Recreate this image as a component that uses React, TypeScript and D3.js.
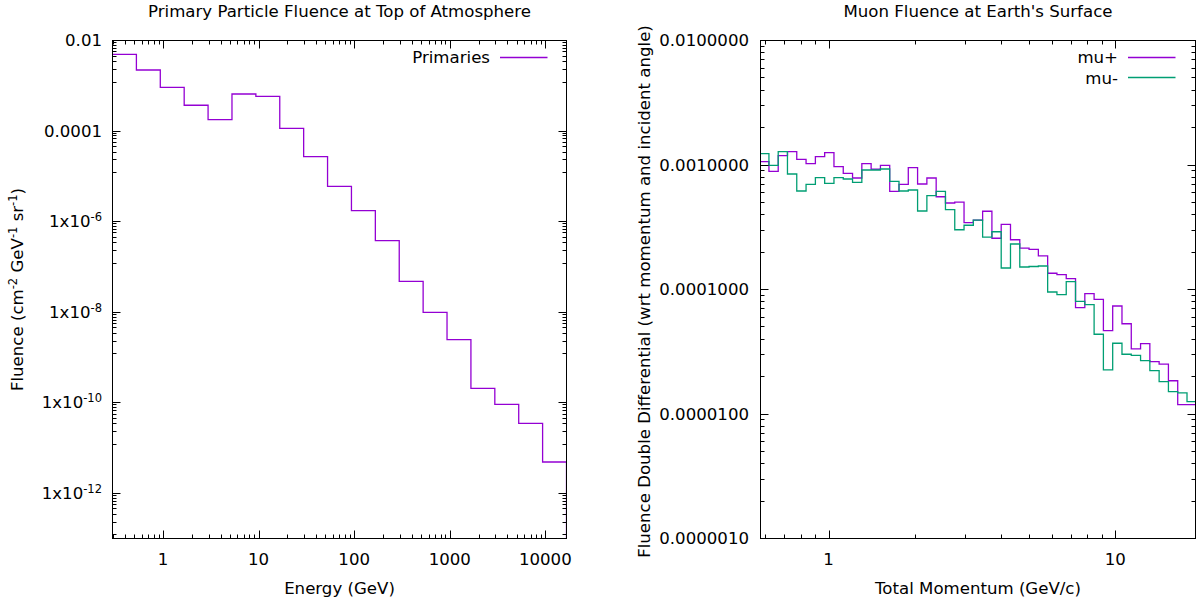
import React from "react";
import * as d3 from "d3";

// ---------- Data: left chart (primary particle fluence) ----------
const primaryEdges = [0.296, 0.5264, 0.936, 1.6645, 2.96, 5.264, 9.36, 16.645, 29.6, 52.64, 93.6, 166.45, 296, 526.4, 936, 1664.5, 2960, 5264, 9360, 16645];
const primaryFluence = [4.95e-3, 2.23e-3, 9.25e-4, 3.71e-4, 1.78e-4, 6.58e-4, 5.85e-4, 1.15e-4, 2.71e-5, 6.01e-6, 1.74e-6, 3.78e-7, 4.8e-8, 9.9e-9, 2.46e-9, 2.07e-10, 9.2e-11, 3.5e-11, 4.9e-12];

// ---------- Data: right chart (muon fluence) ----------
const muonEdges = [0.579, 0.6196, 0.6675, 0.719, 0.7747, 0.8348, 0.8997, 0.9694, 1.0445, 1.1254, 1.2126, 1.3066, 1.4078, 1.5169, 1.6344, 1.761, 1.8974, 2.0444, 2.2028, 2.3735, 2.5573, 2.7555, 2.9689, 3.1989, 3.4467, 3.7137, 4.0014, 4.3113, 4.6453, 5.0052, 5.3929, 5.8107, 6.2608, 6.7458, 7.2684, 7.8315, 8.4382, 9.0918, 9.7962, 10.555, 11.373, 12.254, 13.203, 14.225, 15.327, 16.515, 17.794, 19.05];
const muPlus = [1.063e-3, 8.9e-4, 1.188e-3, 1.279e-3, 1.111e-3, 1.024e-3, 1.166e-3, 1.256e-3, 9.69e-4, 8.58e-4, 7.86e-4, 1.024e-3, 9.24e-4, 9.94e-4, 6.15e-4, 7.0e-4, 9.51e-4, 7.04e-4, 7.86e-4, 5.56e-4, 4.95e-4, 5.04e-4, 3.44e-4, 3.61e-4, 4.25e-4, 2.58e-4, 3.34e-4, 2.51e-4, 2.15e-4, 2.1e-4, 1.86e-4, 1.35e-4, 1.315e-4, 1.221e-4, 7.14e-5, 9.25e-5, 8.34e-5, 4.67e-5, 7.37e-5, 5.31e-5, 3.34e-5, 3.67e-5, 2.63e-5, 2.52e-5, 1.85e-5, 1.188e-5, 1.188e-5];
const muMinus = [1.233e-3, 9.94e-4, 1.279e-3, 8.47e-4, 6.18e-4, 7.0e-4, 7.91e-4, 7.13e-4, 7.91e-4, 7.72e-4, 7.26e-4, 9.12e-4, 9.12e-4, 9.29e-4, 7.4e-4, 6.18e-4, 6.3e-4, 4.27e-4, 5.67e-4, 6.15e-4, 4.38e-4, 3.02e-4, 3.28e-4, 3.61e-4, 2.63e-4, 2.91e-4, 1.489e-4, 2.32e-4, 1.516e-4, 1.53e-4, 1.545e-4, 9.55e-5, 9.08e-5, 1.155e-4, 8.04e-5, 7.55e-5, 4.37e-5, 2.26e-5, 3.7e-5, 3.02e-5, 2.96e-5, 2.68e-5, 2.23e-5, 1.82e-5, 1.51e-5, 1.48e-5, 1.256e-5];

// ---------- Tick labels ----------
const leftXTicks = [1, 10, 100, 1000, 10000];
const leftXLabels = ["1", "10", "100", "1000", "10000"];
const leftYTicks = [1e-2, 1e-4, 1e-6, 1e-8, 1e-10, 1e-12];
const leftYLabels: [string, string][] = [["0.01", ""], ["0.0001", ""], ["1x10", "-6"], ["1x10", "-8"], ["1x10", "-10"], ["1x10", "-12"]];
const rightXTicks = [1, 10];
const rightXLabels = ["1", "10"];
const rightYTicks = [1e-2, 1e-3, 1e-4, 1e-5, 1e-6];
const rightYLabels = ["0.0100000", "0.0010000", "0.0001000", "0.0000100", "0.0000010"];

const PURPLE = "#9400d3";
const GREEN = "#009e73";
const FONT = "'DejaVu Sans', sans-serif";
const FS = 16.6;
const SUP = 11.5;

const TOP = 40.5;
const BOTTOM = 538.5;

function minorLog(lo: number, hi: number) {
  const out: number[] = [];
  for (let e = Math.floor(Math.log10(lo)) - 1; e <= Math.ceil(Math.log10(hi)); e++) {
    for (let k = 2; k <= 9; k++) {
      const v = k * Math.pow(10, e);
      if (v >= lo && v <= hi) out.push(v);
    }
  }
  return out;
}

function stepLine(edges: number[], vals: number[], x: any, y: any) {
  const pts: [number, number][] = vals.map((v, i) => [edges[i], v]);
  pts.push([edges[edges.length - 1], vals[vals.length - 1]]);
  return d3
    .line<[number, number]>()
    .x((p) => x(p[0]))
    .y((p) => y(p[1]))
    .curve(d3.curveStepAfter)(pts) as string;
}

function Frame({ x0, x1, xMajor, xMinor, yMajor, yMinor, x, y }: any) {
  const els: any[] = [];
  const M = 8, m = 4;
  xMajor.forEach((v: number, i: number) => {
    const px = Math.round(x(v)) + 0.5;
    els.push(<line key={"xb" + i} x1={px} x2={px} y1={BOTTOM} y2={BOTTOM - M} />);
    els.push(<line key={"xt" + i} x1={px} x2={px} y1={TOP} y2={TOP + M} />);
  });
  xMinor.forEach((v: number, i: number) => {
    const px = Math.round(x(v)) + 0.5;
    els.push(<line key={"xmb" + i} x1={px} x2={px} y1={BOTTOM} y2={BOTTOM - m} />);
    els.push(<line key={"xmt" + i} x1={px} x2={px} y1={TOP} y2={TOP + m} />);
  });
  yMajor.forEach((v: number, i: number) => {
    const py = Math.round(y(v) - 0.5) + 0.5;
    els.push(<line key={"yl" + i} x1={x0} x2={x0 + M} y1={py} y2={py} />);
    els.push(<line key={"yr" + i} x1={x1} x2={x1 - M} y1={py} y2={py} />);
  });
  yMinor.forEach((v: number, i: number) => {
    const py = Math.round(y(v) - 0.5) + 0.5;
    els.push(<line key={"yml" + i} x1={x0} x2={x0 + m} y1={py} y2={py} />);
    els.push(<line key={"ymr" + i} x1={x1} x2={x1 - m} y1={py} y2={py} />);
  });
  return (
    <g stroke="#000" strokeWidth={1} fill="none">
      {els}
      <rect x={x0} y={TOP} width={x1 - x0} height={BOTTOM - TOP} />
    </g>
  );
}

export default function App() {
  // Left chart
  const L0 = 112.5, L1 = 566.5;
  const lx = d3.scaleLog().domain([primaryEdges[0], primaryEdges[primaryEdges.length - 1]]).range([L0, L1]);
  const ly = d3.scaleLog().domain([1e-13, 1e-2]).range([BOTTOM, TOP]);
  const lxMinor = minorLog(primaryEdges[0], primaryEdges[primaryEdges.length - 1]);
  const lyMinor: number[] = [];
  for (let a = -14; a <= -4; a += 2) {
    const lo = Math.pow(10, a), hi = Math.pow(10, a + 2);
    for (let k = 1; k <= 8; k++) {
      const v = lo + (k * (hi - lo)) / 9;
      if (v >= 1e-13 && v <= 1e-2) lyMinor.push(v);
    }
  }
  const primPath = stepLine(primaryEdges, primaryFluence, lx, ly) + `V${BOTTOM}`;

  // Right chart
  const R0 = 760.5, R1 = 1195.5;
  const rx = d3.scaleLog().domain([muonEdges[0], muonEdges[muonEdges.length - 1]]).range([R0, R1]);
  const ry = d3.scaleLog().domain([1e-6, 1e-2]).range([BOTTOM, TOP]);
  const rxMinor = minorLog(muonEdges[0], muonEdges[muonEdges.length - 1]);
  const ryMinor = minorLog(1e-6, 1e-2);
  const plusPath = stepLine(muonEdges, muPlus, rx, ry);
  const minusPath = stepLine(muonEdges, muMinus, rx, ry);

  return (
    <div style={{ position: "fixed", left: 0, top: 0 }}>
      <svg width={1198} height={605} style={{ display: "block", background: "#fff" }} fontFamily={FONT} fontSize={FS}>
        <defs>
          <clipPath id="clipL"><rect x={L0} y={TOP} width={L1 - L0} height={BOTTOM - TOP} /></clipPath>
          <clipPath id="clipR"><rect x={R0} y={TOP} width={R1 - R0} height={BOTTOM - TOP} /></clipPath>
        </defs>
        <rect x={0} y={0} width={1198} height={605} fill="#fff" />

        {/* ---------- Left chart ---------- */}
        <text x={(L0 + L1) / 2} y={17} textAnchor="middle" fill="#000">Primary Particle Fluence at Top of Atmosphere</text>
        <g clipPath="url(#clipL)">
          <path d={primPath} fill="none" stroke={PURPLE} strokeWidth={1.3} />
        </g>
        <Frame x0={L0} x1={L1} xMajor={leftXTicks} xMinor={lxMinor} yMajor={leftYTicks} yMinor={lyMinor} x={lx} y={ly} />
        {leftXTicks.map((v, i) => (
          <text key={"lxl" + i} x={lx(v)} y={564.5} textAnchor="middle" fill="#000">{leftXLabels[i]}</text>
        ))}
        {leftYTicks.map((v, i) => (
          <text key={"lyl" + i} x={102} y={ly(v) + 5.5} textAnchor="end" fill="#000">
            {leftYLabels[i][0]}
            {leftYLabels[i][1] ? <tspan fontSize={SUP} dy={-6}>{leftYLabels[i][1]}</tspan> : null}
          </text>
        ))}
        <text x={(L0 + L1) / 2} y={594} textAnchor="middle" fill="#000">Energy (GeV)</text>
        <text transform={`translate(22.5, ${(TOP + BOTTOM) / 2}) rotate(-90)`} textAnchor="middle" fill="#000">
          Fluence (cm<tspan fontSize={SUP} dy={-6}>-2</tspan>
          <tspan dy={6}> GeV</tspan><tspan fontSize={SUP} dy={-6}>-1</tspan>
          <tspan dy={6}> sr</tspan><tspan fontSize={SUP} dy={-6}>-1</tspan>
          <tspan dy={6}>)</tspan>
        </text>
        <text x={490} y={63.3} textAnchor="end" fill="#000">Primaries</text>
        <line x1={500} x2={547.5} y1={57.5} y2={57.5} stroke={PURPLE} strokeWidth={1.3} />

        {/* ---------- Right chart ---------- */}
        <text x={(R0 + R1) / 2} y={17} textAnchor="middle" fill="#000">Muon Fluence at Earth's Surface</text>
        <g clipPath="url(#clipR)">
          <path d={plusPath} fill="none" stroke={PURPLE} strokeWidth={1.3} />
          <path d={minusPath} fill="none" stroke={GREEN} strokeWidth={1.3} />
        </g>
        <Frame x0={R0} x1={R1} xMajor={rightXTicks} xMinor={rxMinor} yMajor={rightYTicks} yMinor={ryMinor} x={rx} y={ry} />
        {rightXTicks.map((v, i) => (
          <text key={"rxl" + i} x={rx(v)} y={564.5} textAnchor="middle" fill="#000">{rightXLabels[i]}</text>
        ))}
        {rightYTicks.map((v, i) => (
          <text key={"ryl" + i} x={749} y={ry(v) + 5.5} textAnchor="end" fill="#000">{rightYLabels[i]}</text>
        ))}
        <text x={(R0 + R1) / 2} y={594} textAnchor="middle" fill="#000">Total Momentum (GeV/c)</text>
        <text transform={`translate(650, ${(TOP + BOTTOM) / 2 + 2}) rotate(-90)`} textAnchor="middle" fill="#000">
          Fluence Double Differential (wrt momentum and incident angle)
        </text>
        <text x={1118} y={63.3} textAnchor="end" fill="#000">mu+</text>
        <line x1={1128} x2={1175.5} y1={57.5} y2={57.5} stroke={PURPLE} strokeWidth={1.3} />
        <text x={1118} y={83.5} textAnchor="end" fill="#000">mu-</text>
        <line x1={1128} x2={1175.5} y1={77.5} y2={77.5} stroke={GREEN} strokeWidth={1.3} />
      </svg>
    </div>
  );
}
